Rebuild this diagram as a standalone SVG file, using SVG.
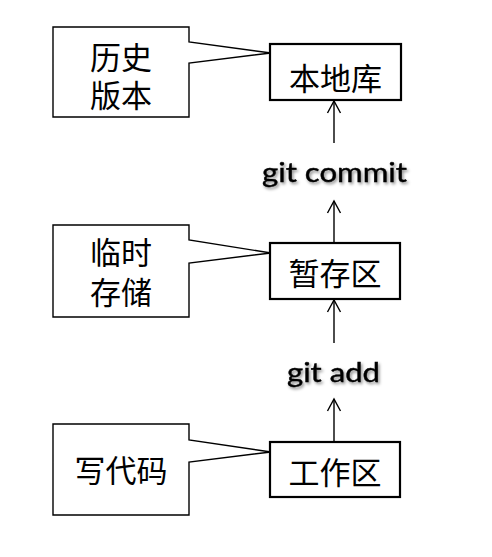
<svg xmlns="http://www.w3.org/2000/svg" width="492" height="557" viewBox="0 0 492 557">
<style>
.node{fill:#fff;stroke:#000;stroke-width:2.2}
.call{fill:#fff;stroke:#000;stroke-width:1.4;stroke-linejoin:miter}
.cjk{font-family:"Noto Sans CJK SC","Noto Sans CJK JP",sans-serif;font-size:31px;fill:#000;text-anchor:middle}
.cmd{font-family:Lato,"Open Sans",sans-serif;font-size:27px;fill:#000;stroke:#000;stroke-width:0.4;filter:url(#sh)}
.conn{stroke:#000;stroke-width:1.4;fill:none}
</style>
<defs>
<filter id="sh" x="-10%" y="-30%" width="130%" height="170%">
<feDropShadow dx="1.5" dy="2" stdDeviation="1.4" flood-color="#000" flood-opacity="0.45"/>
</filter>
<marker id="arr" markerUnits="userSpaceOnUse" markerWidth="20" markerHeight="20" viewBox="-14 -10 16 20" refX="0" refY="0" orient="auto">
<path d="M-12,-6.5 L0,0 L-12,6.5" fill="none" stroke="#000" stroke-width="1.4"/>
</marker>
</defs>
<rect width="492" height="557" fill="#fff"/>
<g id="connectors">
<line class="conn" x1="334" y1="442" x2="334" y2="399" marker-end="url(#arr)"/>
<line class="conn" x1="334" y1="343" x2="334" y2="300" marker-end="url(#arr)"/>
<line class="conn" x1="334" y1="243" x2="334" y2="201" marker-end="url(#arr)"/>
<line class="conn" x1="334" y1="143" x2="334" y2="101" marker-end="url(#arr)"/>
<text class="cmd" x="262" y="182" textLength="145" lengthAdjust="spacingAndGlyphs">git commit</text>
<text class="cmd" x="287" y="382" textLength="93" lengthAdjust="spacingAndGlyphs">git add</text>
</g>
<g id="note-history">
<path class="call" d="M53,27 H189 V42 L271,53 L189,63 V117 H53 Z"/>
<text class="cjk" x="121" y="69">历史<tspan x="121" dy="38">版本</tspan></text>
</g>
<g id="note-temp">
<path class="call" d="M53,225 H189 V240 L271,253 L189,263 V317 H53 Z"/>
<text class="cjk" x="121" y="264">临时<tspan x="121" dy="40">存储</tspan></text>
</g>
<g id="note-code">
<path class="call" d="M53,424 H189 V440 L271,452 L189,462 V515 H53 Z"/>
<text class="cjk" x="121" y="482">写代码</text>
</g>
<g id="node-local-repo">
<rect class="node" x="270" y="44" width="131" height="56"/>
<text class="cjk" x="335.5" y="90">本地库</text>
</g>
<g id="node-staging">
<rect class="node" x="270" y="243" width="130" height="56"/>
<text class="cjk" x="335" y="285">暂存区</text>
</g>
<g id="node-workspace">
<rect class="node" x="270" y="442" width="130" height="55"/>
<text class="cjk" x="335" y="484">工作区</text>
</g>
</svg>
